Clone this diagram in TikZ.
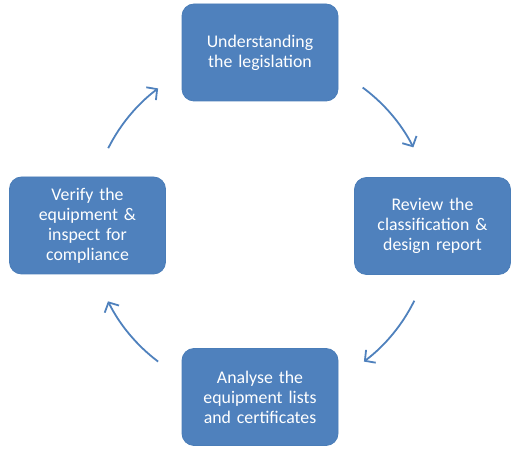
\documentclass[tikz,border=0pt]{standalone}
\usepackage{fontspec}
\setmainfont{Carlito}[WordSpace=0.8]
\usetikzlibrary{arrows.meta}
\definecolor{boxblue}{HTML}{4F81BD}
\definecolor{boxedge}{HTML}{4A7DB8}
\definecolor{arrblue}{HTML}{4F81BD}
\begin{document}
\begin{tikzpicture}[x=1pt,y=1pt,
  stagebox/.style={rounded corners=12pt, fill=boxblue, draw=boxedge, line width=0.8pt,
    minimum width=156pt, minimum height=97pt, text width=150pt, align=center,
    text=white, font=\fontsize{17.8pt}{20pt}\selectfont, inner sep=0pt},
  cyclearrow/.style={draw=arrblue, line width=1.8pt,
    -{Straight Barb[length=7.5pt,width=16pt,line width=1.8pt]}}]
\useasboundingbox (0,0) rectangle (523,463);
\node[stagebox] (top) at (260,410.5) {Understanding\\the legislation};
\node[stagebox] (right) at (432.5,237) {Review the\\classification \&\\design report};
\node[stagebox] (bottom) at (260,66) {Analyse the\\equipment lists\\and certificates};
\node[stagebox] (left) at (87.5,237.5) {Verify the\\equipment \&\\inspect for\\compliance};
\coordinate (c) at (261,238);
\draw[cyclearrow] ([shift={(53.5:171)}]c) arc[start angle=53.5, end angle=27, radius=171];
\draw[cyclearrow] ([shift={(-26.3:171)}]c) arc[start angle=-26.3, end angle=-53, radius=171];
\draw[cyclearrow] ([shift={(233:171)}]c) arc[start angle=233, end angle=206.5, radius=171];
\draw[cyclearrow] ([shift={(153.3:171)}]c) arc[start angle=153.3, end angle=127, radius=171];
\end{tikzpicture}
\end{document}
